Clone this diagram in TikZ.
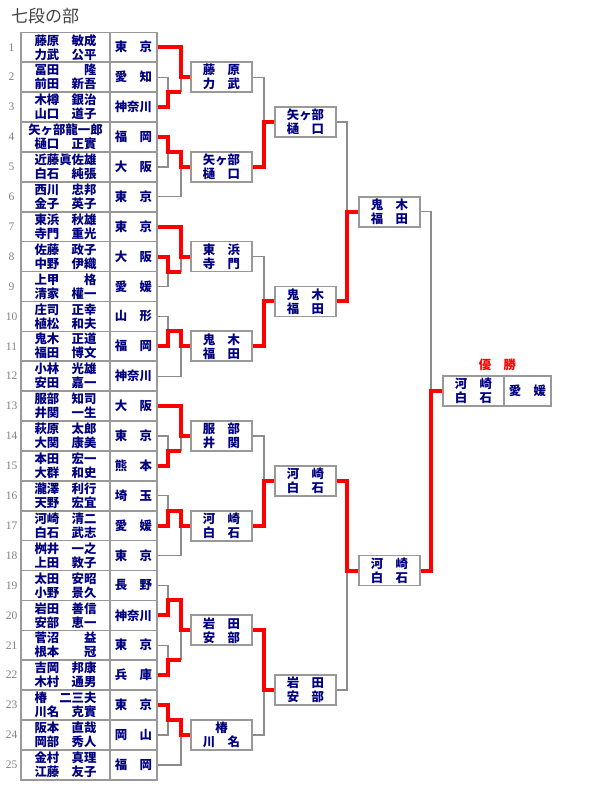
\documentclass[tikz,border=0pt]{standalone}
\usepackage{fontspec}
\setmainfont{Liberation Serif}
\newfontfamily\cjk{Noto Sans CJK JP}
\definecolor{navy}{HTML}{000080}
\definecolor{linegray}{HTML}{999999}
\definecolor{thingray}{HTML}{8C8C8C}
\definecolor{numgray}{HTML}{808080}
\definecolor{titlegray}{HTML}{444444}
\definecolor{wred}{HTML}{FF0000}
\newcommand\namefont{\cjk\bfseries\fontsize{12.4pt}{14pt}\selectfont}
\newcommand\rowentry[4]{%
  \pgfmathsetmacro\ry{32.3+29.9*(#1-0.5)}%
  \node[numtxt] (num#1) at (11.5,\ry) {#1};
  \node[namecell] (n#1) at (65.5,\ry) {#2\\#3};
  \node[prefcell] (p#1) at (133.35,\ry) {#4};
}
\newcommand\bracketbox[5]{\node[boxnode] (#1) at (#2,#3) {#4\\#5};}
\tikzset{
  cell/.style={draw=linegray, line width=1.6pt, minimum height=29.9pt, inner sep=0pt,
    fill=white, text=navy, font=\namefont, align=center},
  namecell/.style={cell, minimum width=89pt},
  prefcell/.style={cell, minimum width=46.7pt},
  boxnode/.style={draw=linegray, line width=1.8pt, minimum width=61pt, minimum height=30pt,
    inner sep=0pt, fill=white, text=navy, font=\namefont, align=center},
  numtxt/.style={text=numgray, font=\fontsize{11.5pt}{11.5pt}\selectfont, inner sep=0pt},
  lose/.style={draw=thingray, line width=1.3pt},
  win/.style={draw=wred, line width=4pt},
}
\begin{document}
\begin{tikzpicture}[x=1pt,y=-1pt]
\useasboundingbox (0,0) rectangle (600,790);
\node[anchor=west, text=titlegray, font=\cjk\fontsize{17pt}{17pt}\selectfont, inner sep=0pt] (title) at (11,16.5) {七段の部};

\rowentry{1}{藤原　敏成}{力武　公平}{東　京}
\rowentry{2}{冨田　　隆}{前田　新吾}{愛　知}
\rowentry{3}{木樽　銀治}{山口　道子}{神奈川}
\rowentry{4}{矢ヶ部龍一郎}{樋口　正實}{福　岡}
\rowentry{5}{近藤眞佐雄}{白石　純張}{大　阪}
\rowentry{6}{西川　忠邦}{金子　英子}{東　京}
\rowentry{7}{東浜　秋雄}{寺門　重光}{東　京}
\rowentry{8}{佐藤　政子}{中野　伊織}{大　阪}
\rowentry{9}{上甲　　格}{清家　權一}{愛　媛}
\rowentry{10}{庄司　正幸}{植松　和夫}{山　形}
\rowentry{11}{鬼木　正道}{福田　博文}{福　岡}
\rowentry{12}{小林　光雄}{安田　嘉一}{神奈川}
\rowentry{13}{服部　知司}{井関　一生}{大　阪}
\rowentry{14}{萩原　太郎}{大関　康美}{東　京}
\rowentry{15}{本田　宏一}{大群　和史}{熊　本}
\rowentry{16}{瀧澤　利行}{天野　宏宜}{埼　玉}
\rowentry{17}{河崎　清二}{白石　武志}{愛　媛}
\rowentry{18}{桝井　一之}{上田　敦子}{東　京}
\rowentry{19}{太田　安昭}{小野　景久}{長　野}
\rowentry{20}{岩田　善信}{安部　恵一}{神奈川}
\rowentry{21}{菅沼　　益}{根本　　冠}{東　京}
\rowentry{22}{吉岡　邦康}{木村　通男}{兵　庫}
\rowentry{23}{椿　二三夫}{川名　克實}{東　京}
\rowentry{24}{阪本　直哉}{岡部　秀人}{岡　山}
\rowentry{25}{金村　真理}{江藤　友子}{福　岡}

\bracketbox{b1}{221.5}{77.15}{藤　原}{力　武}
\bracketbox{b2}{221.5}{166.85}{矢ヶ部}{樋　口}
\bracketbox{b3}{221.5}{256.55}{東　浜}{寺　門}
\bracketbox{b4}{221.5}{346.25}{鬼　木}{福　田}
\bracketbox{b5}{221.5}{435.95}{服　部}{井　関}
\bracketbox{b6}{221.5}{525.65}{河　崎}{白　石}
\bracketbox{b7}{221.5}{630.3}{岩　田}{安　部}
\bracketbox{b8}{221.5}{734.95}{椿}{川　名}
\bracketbox{r1}{305.5}{122}{矢ヶ部}{樋　口}
\bracketbox{r2}{305.5}{301.4}{鬼　木}{福　田}
\bracketbox{r3}{305.5}{480.8}{河　崎}{白　石}
\bracketbox{r4}{305.5}{690.1}{岩　田}{安　部}
\bracketbox{q1}{389.5}{211.7}{鬼　木}{福　田}
\bracketbox{q2}{389.5}{570.5}{河　崎}{白　石}
\bracketbox{fL}{473.5}{391}{河　崎}{白　石}
\node[boxnode, minimum width=47pt] (fR) at (527.5,391) {愛　媛};
\node[text=wred, font=\namefont, inner sep=0pt] (champ) at (497.5,365) {優　勝};

% junction coordinates
\coordinate (s1) at (168,92.1);
\coordinate (s2) at (168,151.9);
\coordinate (s3) at (168,271.5);
\coordinate (s4) at (168,331.3);
\coordinate (s5) at (168,450.9);
\coordinate (s6) at (168,510.7);
\coordinate (s7a) at (168,600.4);
\coordinate (s7b) at (168,660.2);
\coordinate (s8) at (168,720);
\coordinate (a1) at (181,77.15);
\coordinate (a2) at (181,166.85);
\coordinate (a3) at (181,256.55);
\coordinate (a4) at (181,346.25);
\coordinate (a5) at (181,435.95);
\coordinate (a6) at (181,525.65);
\coordinate (a7) at (181,630.3);
\coordinate (a8) at (181,734.95);
\coordinate (c1) at (264,122);
\coordinate (c2) at (264,301.4);
\coordinate (c3) at (264,480.8);
\coordinate (c4) at (264,690.1);
\coordinate (d1) at (347,211.7);
\coordinate (d2) at (347,570.5);
\coordinate (e) at (431,391);

% losing lines
\draw[lose] (p2.east) -| (s1);  \draw[lose] (s1 -| a1) -- (a1);
\draw[lose] (p5.east) -| (s2);  \draw[lose] (p6.east) -| (a2);
\draw[lose] (p9.east) -| (s3);  \draw[lose] (s3 -| a3) -- (a3);
\draw[lose] (p10.east) -| (s4); \draw[lose] (p12.east) -| (a4);
\draw[lose] (p14.east) -| (s5); \draw[lose] (s5 -| a5) -- (a5);
\draw[lose] (p16.east) -| (s6); \draw[lose] (p18.east) -| (a6);
\draw[lose] (p19.east) -| (s7a); \draw[lose] (p21.east) -| (s7b); \draw[lose] (s7b -| a7) -- (a7);
\draw[lose] (p24.east) -| (s8); \draw[lose] (p25.east) -| (a8);
\draw[lose] (b1.east) -| (c1);
\draw[lose] (b3.east) -| (c2);
\draw[lose] (b5.east) -| (c3);
\draw[lose] (b8.east) -| (c4);
\draw[lose] (r1.east) -| (d1);
\draw[lose] (r4.east) -| (d2);
\draw[lose] (q1.east) -| (e);

% winning lines
\draw[win] (p3.east) -| (s1) -- (s1 -| a1);
\draw[win] (p1.east) -| (a1) -- (b1.west);
\draw[win] (p4.east) -| (s2) -- (s2 -| a2) -- (a2) -- (b2.west);
\draw[win] (p8.east) -| (s3) -- (s3 -| a3);
\draw[win] (p7.east) -| (a3) -- (b3.west);
\draw[win] (p11.east) -| (s4) -- (s4 -| a4) -- (a4) -- (b4.west);
\draw[win] (p15.east) -| (s5) -- (s5 -| a5);
\draw[win] (p13.east) -| (a5) -- (b5.west);
\draw[win] (p17.east) -| (s6) -- (s6 -| a6) -- (a6) -- (b6.west);
\draw[win] (p20.east) -| (s7a) -- (s7a -| a7) -- (a7) -- (b7.west);
\draw[win] (p22.east) -| (s7b) -- (s7b -| a7);
\draw[win] (p23.east) -| (s8) -- (s8 -| a8) -- (a8) -- (b8.west);
\draw[win] (b2.east) -| (c1) -- (r1.west);
\draw[win] (b4.east) -| (c2) -- (r2.west);
\draw[win] (b6.east) -| (c3) -- (r3.west);
\draw[win] (b7.east) -| (c4) -- (r4.west);
\draw[win] (r2.east) -| (d1) -- (q1.west);
\draw[win] (r3.east) -| (d2) -- (q2.west);
\draw[win] (q2.east) -| (e) -- (fL.west);
\end{tikzpicture}
\end{document}
